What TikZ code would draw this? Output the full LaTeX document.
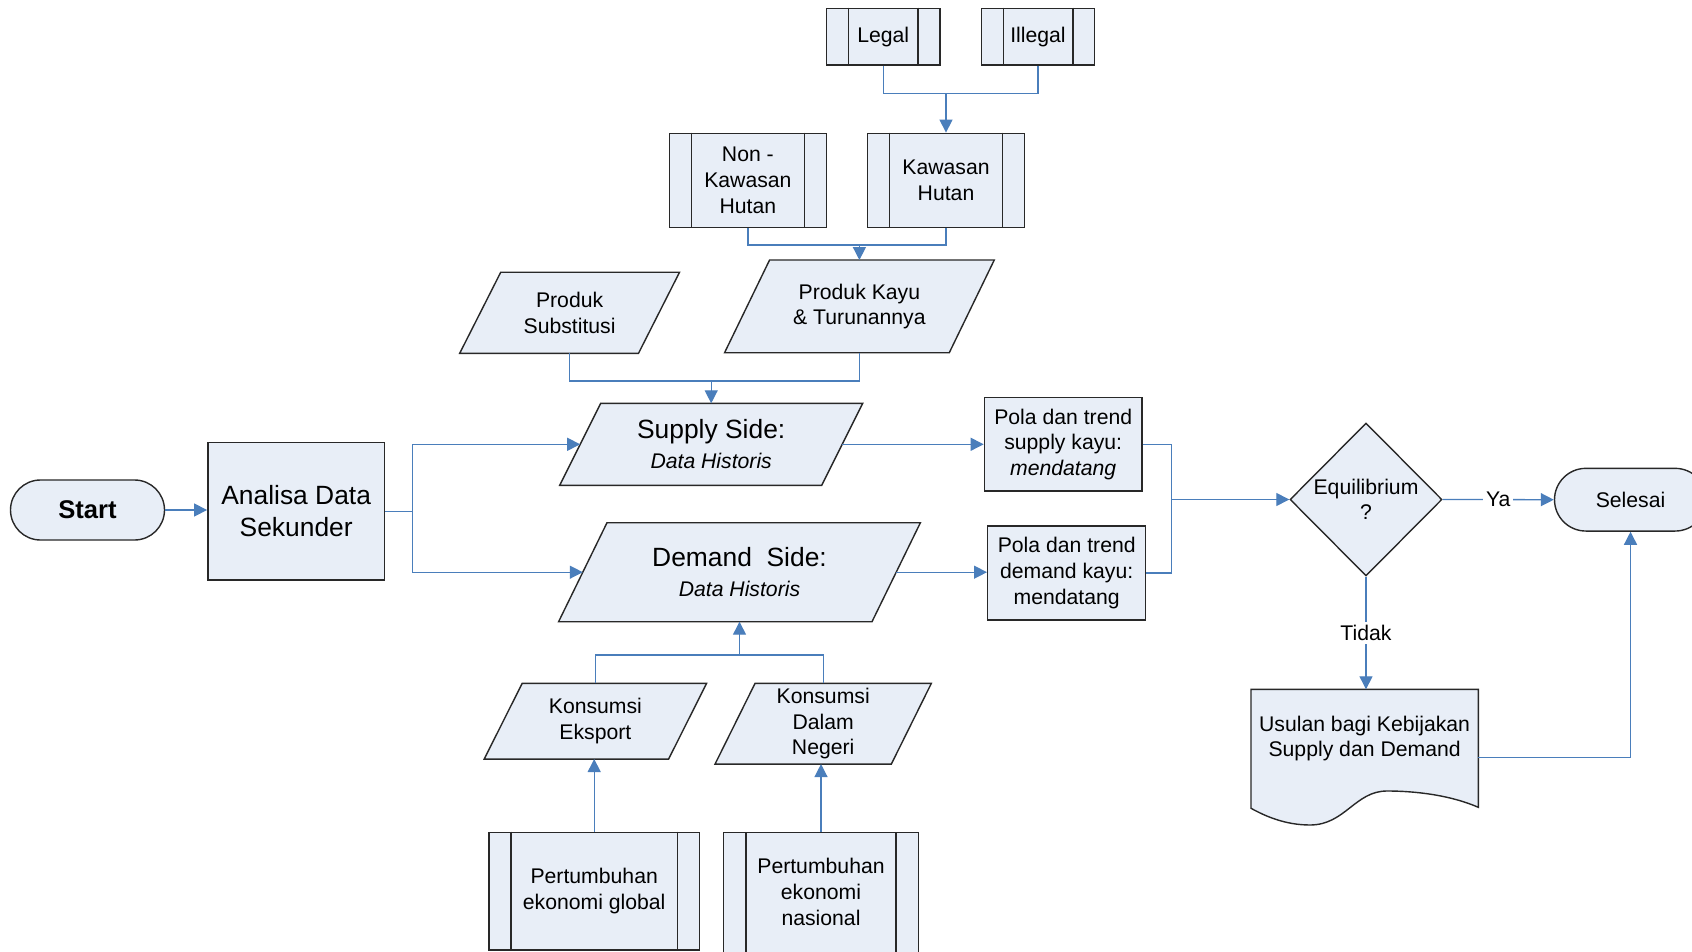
\documentclass[tikz,border=0pt]{standalone}
\usepackage{fontspec}
\setmainfont{Liberation Sans}
\usetikzlibrary{arrows.meta,shapes.geometric,shapes.misc,calc}
\definecolor{fillc}{RGB}{232,238,247}
\definecolor{linec}{RGB}{74,126,187}
\definecolor{borderc}{RGB}{40,40,40}
\newcommand\txtn{\fontsize{10.6}{12.8}\selectfont}
\newcommand\txtb{\fontsize{13.2}{16}\selectfont}
% parallelogram: name, cx, cy, width, height, half slant, text
\newcommand\para[7]{%
  \draw[shp] ({#2-#4/2+#6},{#3-#5/2}) -- ({#2+#4/2+#6},{#3-#5/2}) -- ({#2+#4/2-#6},{#3+#5/2}) -- ({#2-#4/2-#6},{#3+#5/2}) -- cycle;
  \node[txt] (#1) at (#2,#3) {#7};
  \coordinate (#1-n) at (#2,{#3-#5/2});
  \coordinate (#1-s) at (#2,{#3+#5/2});
  \coordinate (#1-w) at ({#2-#4/2},#3);
  \coordinate (#1-e) at ({#2+#4/2},#3);
}
\newcommand\innerlines[2]{%
  \draw[draw=borderc, line width=0.7pt] ([xshift=#2]#1.north west) -- ([xshift=#2]#1.south west);
  \draw[draw=borderc, line width=0.7pt] ([xshift=-#2]#1.north east) -- ([xshift=-#2]#1.south east);
}
\tikzset{
  shp/.style={draw=borderc, fill=fillc, line width=0.7pt},
  txt/.style={align=center, font=\txtn, inner sep=0pt},
  box/.style={shp, rectangle, align=center, font=\txtn, inner sep=1pt},
  term/.style={shp, rounded rectangle, align=center, font=\txtn, inner sep=1pt},
  conn/.style={draw=linec, line width=0.65pt, -{Triangle[length=6.5pt,width=6.5pt]}},
  wire/.style={draw=linec, line width=0.65pt},
  lbl/.style={fill=white, font=\txtn, inner sep=1.5pt},
}
\begin{document}
\begin{tikzpicture}[x=0.5pt,y=-0.5pt]
\useasboundingbox (0,0) rectangle (1692,952);
\fill[white] (0,0) rectangle (1692,952);

% terminals
\node[term, minimum width=79pt, minimum height=30pt] (start) at (87.5,510) {\fontsize{12.8}{15}\selectfont\bfseries Start};
\node[term, minimum width=78pt, minimum height=31.35pt] (selesai) at (1630.5,499.7) {Selesai};

% process boxes
\node[box, minimum width=88.4pt, minimum height=68.85pt, font=\txtb, align=center] (analisa) at (296.2,511.2) {Analisa Data\\Sekunder};
\node[box, minimum width=78.85pt, minimum height=46.85pt] (polaS) at (1063.2,444.2) {Pola dan trend\\supply kayu:\\\textit{mendatang}};
\node[box, minimum width=79pt, minimum height=47pt] (polaD) at (1066.7,573) {Pola dan trend\\demand kayu:\\mendatang};

% predefined process boxes
\node[box, minimum width=56.75pt, minimum height=28.25pt] (legal) at (883.2,36.7) {Legal};
\innerlines{legal}{11.25pt}
\node[box, minimum width=56.6pt, minimum height=28.25pt] (illegal) at (1038,36.7) {Illegal};
\innerlines{illegal}{11.25pt}
\node[box, minimum width=78.55pt, minimum height=47pt] (nonk) at (747.9,180.3) {Non -\\Kawasan\\Hutan};
\innerlines{nonk}{11.3pt}
\node[box, minimum width=78.55pt, minimum height=47pt] (kaw) at (946,180.3) {Kawasan\\Hutan};
\innerlines{kaw}{11.3pt}
\node[box, minimum width=105.15pt, minimum height=58.85pt] (global) at (594.2,891.2) {Pertumbuhan\\ekonomi global};
\innerlines{global}{11.3pt}
% nasional box runs past the lower edge
\draw[shp] (723.3,832.3) rectangle (918.7,965);
\draw[draw=borderc, line width=0.7pt] (745.9,832.3) -- (745.9,965);
\draw[draw=borderc, line width=0.7pt] (896.1,832.3) -- (896.1,965);
\node[txt] (nasional) at (821,892) {Pertumbuhan\\ekonomi\\nasional};
\coordinate (nasional-n) at (821,832.3);

% parallelograms
\para{sub}{569.6}{312.8}{178.8}{81}{20.5}{Produk\\Substitusi}
\para{kayu}{859.4}{306.4}{224.7}{92.7}{22.5}{Produk Kayu\\\& Turunannya}
\para{sup}{711.2}{444.3}{262}{82}{20.5}{{\txtb Supply Side:}\\[2pt]\textit{Data Historis}}
\para{dem}{739.5}{572.2}{313.4}{99}{24.2}{{\txtb Demand\ \ Side:}\\[2pt]\textit{Data Historis}}
\para{eks}{595.4}{721.2}{184.4}{75.7}{19}{Konsumsi\\Eksport}
\para{dal}{823.2}{723.7}{176.3}{80.7}{20}{Konsumsi\\Dalam\\Negeri}

% decision
\node[shp, diamond, minimum width=76pt, minimum height=76.5pt, inner sep=0pt, align=center, font=\txtn] (equil) at (1366,499.5) {Equilibrium\\?};

% document shape
\draw[shp] (1251,689.3) -- (1478.3,689.3) -- (1478.3,807.3)
  .. controls (1450,795) and (1415,791) .. (1387,791)
  .. controls (1355,791) and (1345,825) .. (1310,825)
  .. controls (1285,825) and (1265,816) .. (1251,808.3) -- cycle;
\node[txt, font=\fontsize{10.6}{12.5}\selectfont] (usulan) at (1364.6,739) {Usulan bagi Kebijakan\\Supply dan Demand};
\coordinate (usu-n) at (1364.5,689.3);
\coordinate (usu-e) at (1478.3,757.3);

% connectors
\draw[conn] (start.east) -- (start.east -| analisa.west);
\coordinate (br) at (412.6,511.2);
\draw[wire] (analisa.east) -- (br);
\draw[conn] (br) |- (sup-w);
\draw[conn] (br) |- (dem-w);
\draw[conn] (sup-e) -- (sup-e -| polaS.west);
\draw[conn] (dem-e) -- (dem-e -| polaD.west);
\coordinate (mg) at (1171.5,499.5);
\draw[wire] (polaS.east) -| (mg);
\draw[wire] (polaD.east) -| (mg);
\draw[conn] (mg) -- (mg -| equil.west);
\draw[conn] (equil.east) -- node[lbl] {Ya} (selesai.west);
\draw[conn] (equil.south) -- node[lbl] {Tidak} (equil.south |- usu-n);
\draw[conn] (usu-e) -| (selesai.south);

\coordinate (j1) at (946,93.3);
\draw[wire] (legal.south) |- (j1);
\draw[wire] (illegal.south) |- (j1);
\draw[conn] (j1) -- (kaw.north);
\coordinate (j2) at (859.4,245);
\draw[wire] (nonk.south) |- (j2);
\draw[wire] (kaw.south) |- (j2);
\draw[conn] (j2) -- (kayu-n);
\coordinate (j3) at (711.2,381);
\draw[wire] (sub-s) |- (j3);
\draw[wire] (kayu-s) |- (j3);
\draw[conn] (j3) -- (sup-n);
\coordinate (j4) at (739.5,655);
\draw[wire] (eks-n) |- (j4);
\draw[wire] (dal-n) |- (j4);
\draw[conn] (j4) -- (dem-s);
\draw[conn] (global.north) -- (global.north |- eks-s);
\draw[conn] (nasional-n) -- (nasional-n |- dal-s);
\end{tikzpicture}
\end{document}
